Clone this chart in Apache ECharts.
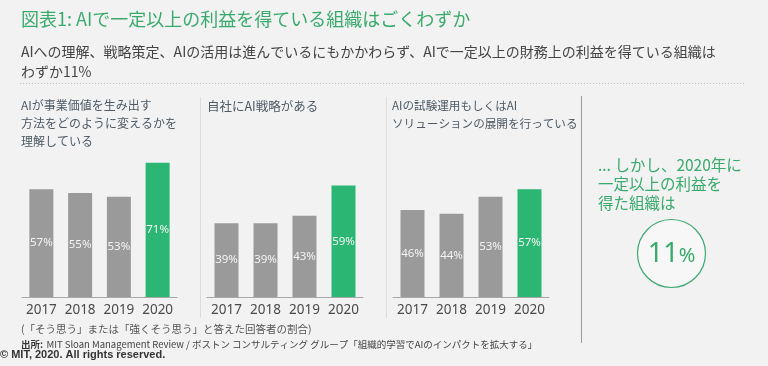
<!DOCTYPE html>
<html><head><meta charset="utf-8">
<script src="https://cdn.jsdelivr.net/npm/echarts@6/dist/echarts.min.js"></script>
<style>html,body{margin:0;padding:0;background:#f2f2f2}#c{width:768px;height:366px}</style>
</head><body><div id="c"></div>
<script>
const years = ['2017', '2018', '2019', '2020'];
const understandValues = [57, 55, 53, 71];
const strategyValues = [39, 39, 43, 59];
const pilotValues = [46, 44, 53, 57];
const panelTitles = [
  'AIが事業価値を生み出す\n方法をどのように変えるかを\n理解している',
  '自社にAI戦略がある',
  'AIの試験運用もしくはAI\nソリューションの展開を行っている'
];
const profitShare = '11';

const JP = '"Noto Sans CJK JP", "Noto Sans", sans-serif';
const GREEN = '#2bb673';
const TGREEN = '#38aa6c';
const GRAY = '#9a9a9a';

const chart = echarts.init(document.getElementById('c'), null, {renderer: 'canvas'});
const gridDefs = [{left: 22, width: 155}, {left: 207, width: 156}, {left: 393, width: 156}];
const seriesData = [understandValues, strategyValues, pilotValues];

const grids = gridDefs.map(g => ({left: g.left, width: g.width, top: 108, bottom: 69, containLabel: false}));
const xAxes = gridDefs.map((g, i) => ({
  type: 'category', gridIndex: i, data: years,
  axisTick: {show: false},
  axisLine: {lineStyle: {color: '#a8a8a8', width: 1}},
  axisLabel: {color: '#4a4a4a', fontSize: 13.5, fontFamily: 'Noto Sans', margin: 6, interval: 0}
}));
const yAxes = gridDefs.map((g, i) => ({
  type: 'value', gridIndex: i, min: 0, max: 100, show: false, splitLine: {show: false}
}));
const series = seriesData.map((vals, i) => ({
  type: 'bar', xAxisIndex: i, yAxisIndex: i, barWidth: 24,
  data: vals.map((v, j) => ({value: v, itemStyle: {color: j === vals.length - 1 ? GREEN : GRAY}})),
  label: {show: true, position: 'inside', formatter: '{c}%', color: '#f4f4f4', fontSize: 11.5, fontFamily: 'Noto Sans'},
  silent: true, animation: false
}));

function txt(x, y, text, font, fill, extra) {
  return {type: 'text', x: x, y: y, silent: true,
    style: Object.assign({text: text, font: font, fill: fill, verticalAlign: 'middle'}, extra || {})};
}

const graphic = [
  txt(21, 19, '図表1: AIで一定以上の利益を得ている組織はごくわずか', '18px ' + JP, TGREEN),
  txt(21, 42, 'AIへの理解、戦略策定、AIの活用は進んでいるにもかかわらず、AIで一定以上の財務上の利益を得ている組織は\nわずか11%', '14px ' + JP, '#444', {lineHeight: 20, verticalAlign: 'top'}),
  {type: 'line', silent: true, shape: {x1: 20, y1: 83.5, x2: 745, y2: 83.5}, style: {stroke: '#bdbdbd', lineWidth: 1, lineDash: [1, 2]}},
  txt(21, 96, panelTitles[0], '12px ' + JP, '#4d5a66', {lineHeight: 18, verticalAlign: 'top'}),
  txt(207, 97, panelTitles[1], '12.5px ' + JP, '#4d5a66', {lineHeight: 18, verticalAlign: 'top'}),
  txt(392, 97, panelTitles[2], '11.6px ' + JP, '#4d5a66', {lineHeight: 18, verticalAlign: 'top'}),
  {type: 'line', silent: true, shape: {x1: 200.5, y1: 97, x2: 200.5, y2: 318}, style: {stroke: '#dcdcdc', lineWidth: 1}},
  {type: 'line', silent: true, shape: {x1: 386.5, y1: 97, x2: 386.5, y2: 318}, style: {stroke: '#dcdcdc', lineWidth: 1}},
  {type: 'line', silent: true, shape: {x1: 581.5, y1: 96, x2: 581.5, y2: 343}, style: {stroke: '#9a9a9a', lineWidth: 1}},
  txt(598, 156, '... しかし、2020年に\n一定以上の利益を\n得た組織は', '15.5px ' + JP, TGREEN, {lineHeight: 19, verticalAlign: 'top'}),
  {type: 'circle', silent: true, shape: {cx: 671.5, cy: 253.5, r: 34}, style: {fill: '#f7f7f7', stroke: '#3aa870', lineWidth: 1.2}},
  {type: 'text', silent: true, x: 671.5, y: 254,
    style: {text: '{a|' + profitShare + '}{b|%}', align: 'center', verticalAlign: 'middle',
      rich: {a: {fontSize: 27, fontFamily: 'Noto Sans', fill: TGREEN, color: TGREEN, verticalAlign: 'bottom'},
             b: {fontSize: 20, fontFamily: 'Noto Sans', fill: TGREEN, color: TGREEN, verticalAlign: 'bottom', padding: [0, 0, 1, 0]}}}},
  txt(21, 329, '(「そう思う」または「強くそう思う」と答えた回答者の割合)', '10.5px ' + JP, '#555'),
  {type: 'text', silent: true, x: 21, y: 344,
    style: {text: '{b|出所:} {n|MIT Sloan Management Review / ボストン コンサルティング グループ「組織的学習でAIのインパクトを拡大する」}', verticalAlign: 'middle',
      rich: {b: {fontSize: 9.5, fontWeight: 'bold', fontFamily: JP, color: '#333', fill: '#333'},
             n: {fontSize: 9.5, fontFamily: JP, color: '#444', fill: '#444'}}}},
  txt(0, 355, '© MIT, 2020. All rights reserved.', 'bold 11px "Liberation Sans Narrow", "Liberation Sans", sans-serif', '#333')
];

chart.setOption({
  backgroundColor: '#f2f2f2',
  animation: false,
  grid: grids, xAxis: xAxes, yAxis: yAxes, series: series, graphic: graphic
});
</script></body></html>
